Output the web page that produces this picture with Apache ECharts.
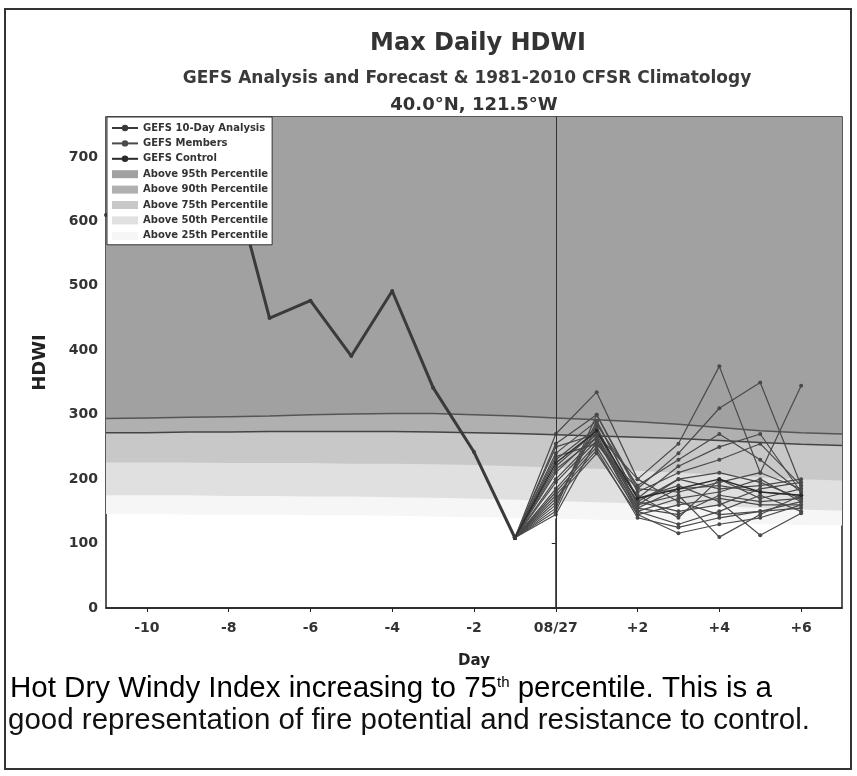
<!DOCTYPE html>
<html>
<head>
<meta charset="utf-8">
<title>Max Daily HDWI</title>
<script src="https://cdn.jsdelivr.net/npm/echarts@6/dist/echarts.min.js"></script>
<style>
  html, body { margin: 0; padding: 0; background: #fff; }
  #chart { width: 857px; height: 776px; }
</style>
</head>
<body>
<div id="chart"></div>
<script>
// x tick labels (day offsets from 08/27)
const tickDays = [-10, -8, -6, -4, -2, 0, 2, 4, 6];
const tickLabels = ['-10', '-8', '-6', '-4', '-2', '08/27', '+2', '+4', '+6'];
const yTicks = [0, 100, 200, 300, 400, 500, 600, 700];

// CFSR climatology percentiles, one value per day
const climDays = [-11, -10, -9, -8, -7, -6, -5, -4, -3, -2, -1, 0, 1, 2, 3, 4, 5, 6, 7];
const p95 = [294, 295, 296, 297, 298, 300, 301, 302, 302, 300, 298, 295, 292, 289, 285, 280, 275, 272, 270];
const p90 = [272, 272, 273, 273, 274, 274, 274, 274, 273, 272, 271, 269, 267, 265, 263, 260, 257, 254, 252];
const p75 = [226, 226, 226, 225, 225, 225, 224, 224, 223, 222, 220, 218, 216, 213, 210, 207, 203, 200, 198];
const p50 = [175, 175, 175, 174, 174, 173, 173, 172, 171, 170, 168, 166, 164, 162, 160, 158, 155, 153, 151];
const p25 = [146, 146, 145, 145, 145, 144, 144, 143, 142, 141, 140, 139, 137, 136, 134, 132, 130, 129, 128];

// GEFS 10-day analysis
const analysisDays = [-11, -10, -9, -8, -7, -6, -5, -4, -3, -2, -1];
const analysis = [610, 640, 680, 690, 450, 477, 391, 492, 342, 242, 109];

// GEFS forecast (members + control), starting from the last analysis day
const fcstDays = [-1, 0, 1, 2, 3, 4, 5, 6];
const control = [109, 225, 275, 170, 185, 200, 180, 175];
const members = [
  [109, 270, 335, 200, 255, 375, 210, 345],
  [109, 255, 300, 185, 240, 310, 350, 190],
  [109, 240, 290, 170, 220, 250, 270, 180],
  [109, 230, 280, 160, 200, 210, 195, 170],
  [109, 220, 275, 155, 185, 190, 180, 175],
  [109, 210, 270, 150, 170, 180, 200, 165],
  [109, 200, 265, 145, 160, 170, 160, 160],
  [109, 195, 260, 165, 150, 160, 185, 195],
  [109, 185, 255, 175, 140, 200, 170, 185],
  [109, 180, 250, 150, 130, 150, 175, 150],
  [109, 175, 245, 140, 125, 140, 150, 155],
  [109, 170, 240, 145, 116, 130, 140, 160],
  [109, 165, 280, 160, 175, 110, 145, 175],
  [109, 160, 290, 170, 190, 165, 113, 147],
  [109, 155, 300, 180, 210, 230, 255, 190],
  [109, 150, 285, 190, 230, 270, 230, 180],
  [109, 145, 260, 155, 145, 175, 165, 170],
  [109, 250, 270, 200, 165, 145, 150, 165],
  [109, 235, 255, 185, 180, 195, 210, 185],
  [109, 215, 265, 165, 200, 185, 190, 200]
];

const chart = echarts.init(document.getElementById('chart'));

const pair = (xs, ys) => xs.map((x, i) => [x, ys[i]]);

// percentile band: filled from its line up to the top of the axis
function band(name, values, fill, lineColor, lineWidth) {
  return {
    name: name,
    type: 'line',
    data: pair(climDays, values),
    symbol: 'none',
    silent: true,
    itemStyle: { color: fill },
    lineStyle: { color: lineColor, width: lineWidth },
    areaStyle: { origin: 'end', color: fill, opacity: 1 }
  };
}

const series = [
  band('Above 25th Percentile', p25, '#f6f6f6', '#f6f6f6', 0),
  band('Above 50th Percentile', p50, '#e0e0e0', '#e0e0e0', 0),
  band('Above 75th Percentile', p75, '#c8c8c8', '#c8c8c8', 0),
  band('Above 90th Percentile', p90, '#b0b0b0', '#444', 1.5),
  band('Above 95th Percentile', p95, '#a1a1a1', '#555', 1.5)
];

// ensemble members
members.forEach((m, i) => {
  series.push({
    name: 'GEFS Members',
    type: 'line',
    data: pair(fcstDays, m),
    symbol: 'circle',
    symbolSize: 4,
    itemStyle: { color: '#4a4a4a' },
    lineStyle: { color: '#4a4a4a', width: 1.2 }
  });
});

series.push({
  name: 'GEFS Control',
  type: 'line',
  data: pair(fcstDays, control),
  symbol: 'circle',
  symbolSize: 4,
  itemStyle: { color: '#2a2a2a' },
  lineStyle: { color: '#2a2a2a', width: 1.4 }
});

series.push({
  name: 'GEFS 10-Day Analysis',
  type: 'line',
  data: pair(analysisDays, analysis),
  symbol: 'circle',
  symbolSize: 4,
  itemStyle: { color: '#3a3a3a' },
  lineStyle: { color: '#3a3a3a', width: 3 },
  markLine: {
    silent: true,
    symbol: 'none',
    label: { show: false },
    lineStyle: { color: '#333', width: 1, type: 'solid' },
    data: [{ xAxis: 0 }]
  }
});

const option = {
  animation: false,
  backgroundColor: '#fff',
  title: [
    {
      text: 'Max Daily HDWI',
      left: 473, top: 27, textAlign: 'center',
      textStyle: { fontFamily: 'DejaVu Sans', fontSize: 24, fontWeight: 'bold', color: '#333' }
    },
    {
      text: 'GEFS Analysis and Forecast & 1981-2010 CFSR Climatology',
      left: 462, top: 65, textAlign: 'center',
      textStyle: { fontFamily: 'DejaVu Sans', fontSize: 17, fontWeight: 'bold', color: '#3a3a3a' }
    },
    {
      text: '40.0°N, 121.5°W',
      left: 469, top: 91, textAlign: 'center',
      textStyle: { fontFamily: 'DejaVu Sans', fontSize: 18, fontWeight: 'bold', color: '#333' }
    }
  ],
  legend: {
    left: 107, top: 117,
    orient: 'vertical',
    backgroundColor: '#fff',
    borderColor: '#333',
    borderWidth: 1,
    padding: [5, 4, 3, 4],
    itemGap: 3.4,
    itemWidth: 26,
    itemHeight: 8,
    textStyle: { fontFamily: 'DejaVu Sans', fontSize: 10, fontWeight: 'bold', color: '#333', lineHeight: 12 },
    data: [
      { name: 'GEFS 10-Day Analysis' },
      { name: 'GEFS Members' },
      { name: 'GEFS Control' },
      { name: 'Above 95th Percentile', icon: 'rect' },
      { name: 'Above 90th Percentile', icon: 'rect' },
      { name: 'Above 75th Percentile', icon: 'rect' },
      { name: 'Above 50th Percentile', icon: 'rect' },
      { name: 'Above 25th Percentile', icon: 'rect' }
    ],
    selectedMode: false
  },
  grid: {
    left: 106, right: 15, top: 117, bottom: 168,
    show: true, borderColor: '#222', borderWidth: 1.5
  },
  xAxis: {
    type: 'value',
    min: -11, max: 7,
    name: 'Day',
    nameLocation: 'middle',
    nameGap: 46,
    nameTextStyle: { fontFamily: 'DejaVu Sans', fontSize: 15, fontWeight: 'bold', color: '#222' },
    axisLine: { lineStyle: { color: '#222', width: 1.5 } },
    axisTick: { customValues: tickDays, length: 4, lineStyle: { color: '#222' } },
    axisLabel: {
      customValues: tickDays,
      margin: 13,
      fontFamily: 'DejaVu Sans', fontSize: 14, fontWeight: 'bold', color: '#333',
      formatter: v => tickLabels[tickDays.indexOf(v)]
    },
    splitLine: { show: false }
  },
  yAxis: {
    type: 'value',
    min: 0, max: 762,
    name: 'HDWI',
    nameLocation: 'middle',
    nameGap: 57,
    nameTextStyle: { fontFamily: 'DejaVu Sans', fontSize: 18, fontWeight: 'bold', color: '#222' },
    axisLine: { show: true, lineStyle: { color: '#222', width: 1.5 } },
    axisTick: { show: true, customValues: yTicks, length: 4, lineStyle: { color: '#222' } },
    axisLabel: {
      customValues: yTicks,
      margin: 8,
      fontFamily: 'DejaVu Sans', fontSize: 14, fontWeight: 'bold', color: '#333'
    },
    splitLine: { show: false }
  },
  graphic: [
    // page frame
    {
      type: 'rect',
      shape: { x: 5, y: 9, width: 846, height: 760 },
      style: { fill: 'none', stroke: '#333', lineWidth: 2 },
      silent: true
    },
    {
      type: 'text',
      left: 10, top: 672,
      style: {
        text: '{t|Hot Dry Windy Index increasing to 75}{s|th}{t| percentile. This is a}',
        rich: {
          t: { fontFamily: 'Liberation Sans', fontSize: 29.5, color: '#111', lineHeight: 33 },
          s: { fontFamily: 'Liberation Sans', fontSize: 15, color: '#111', lineHeight: 33, verticalAlign: 'top', padding: [3, 0, 0, 0] }
        }
      }
    },
    {
      type: 'text',
      left: 8, top: 706,
      style: {
        text: 'good representation of fire potential and resistance to control.',
        fontFamily: 'Liberation Sans', fontSize: 29.5, fill: '#111'
      }
    }
  ],
  series: series
};

chart.setOption(option);

window.addEventListener('resize', () => {
  chart.resize();
});
</script>
</body>
</html>
